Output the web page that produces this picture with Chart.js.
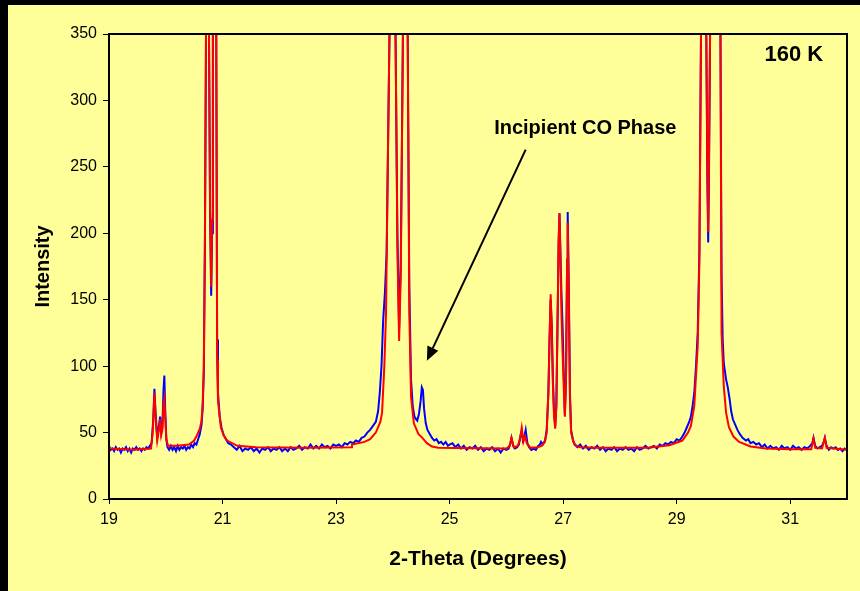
<!DOCTYPE html>
<html lang="en">
<head>
  <meta charset="UTF-8"/>
  <title>160 K XRD Pattern</title>
  <script src="https://cdn.jsdelivr.net/npm/chart.js"></script>
  <style>
    html, body { margin: 0; padding: 0; background: #000; }
    canvas { display: block; }
  </style>
</head>
<body>
  <canvas id="xrd" width="860" height="591"></canvas>

  <script>
    // tick values
    const xTicks = [19, 21, 23, 25, 27, 29, 31]
    const yTicks = [0, 50, 100, 150, 200, 250, 300, 350]

    // measured pattern [2-theta, intensity] (peak tops run off the 350 limit)
    const observed = [
      [19.00,40],[19.03,37],[19.06,38],[19.09,36],[19.12,39],[19.15,37],[19.18,38],[19.21,35],[19.24,38],[19.27,37],
      [19.30,39],[19.33,36],[19.36,38],[19.39,35],[19.42,38],[19.45,37],[19.48,39],[19.51,37],[19.54,38],[19.57,36],
      [19.60,38],[19.63,37],[19.66,39],[19.69,38],[19.72,40],[19.75,42],[19.78,60],[19.80,83],[19.82,65],[19.85,47],
      [19.88,55],[19.90,62],[19.92,50],[19.94,54],[19.96,82],[19.975,93],[19.99,68],[20.01,45],[20.03,39],[20.06,37],
      [20.09,40],[20.12,37],[20.15,39],[20.18,36],[20.21,40],[20.24,37],[20.27,39],[20.30,38],[20.33,40],[20.36,37],
      [20.39,39],[20.42,38],[20.45,41],[20.48,39],[20.51,42],[20.54,41],[20.57,45],[20.60,49],[20.63,56],[20.65,68],
      [20.67,95],[20.69,190],[20.71,360],[20.735,900],[20.76,360],[20.78,215],[20.80,153],[20.815,200],[20.83,360],[20.86,900],
      [20.89,340],[20.905,120],[20.92,80],[20.95,62],[20.98,54],[21.02,48],[21.06,45],[21.10,42],[21.15,41],[21.20,39],
      [21.25,37],[21.30,40],[21.35,36],[21.40,38],[21.45,37],[21.50,39],[21.55,36],[21.60,38],[21.65,35],[21.70,38],
      [21.75,37],[21.80,39],[21.85,36],[21.90,38],[21.95,37],[22.00,39],[22.05,36],[22.10,38],[22.15,36],[22.20,39],
      [22.25,37],[22.30,38],[22.35,40],[22.40,37],[22.45,39],[22.50,38],[22.55,41],[22.60,38],[22.65,40],[22.70,38],
      [22.75,41],[22.80,39],[22.85,40],[22.90,38],[22.95,41],[23.00,40],[23.05,41],[23.10,39],[23.15,42],[23.20,41],
      [23.25,43],[23.30,42],[23.35,44],[23.40,43],[23.45,46],[23.50,47],[23.55,50],[23.60,52],[23.65,55],[23.70,58],
      [23.74,66],[23.77,80],[23.80,100],[23.83,135],[23.86,155],[23.89,185],[23.92,280],[23.95,380],[24.00,900],[24.045,360],
      [24.08,200],[24.11,128],[24.14,180],[24.18,360],[24.22,900],[24.26,360],[24.29,160],[24.32,90],[24.35,70],[24.38,62],
      [24.41,60],[24.43,59],[24.46,64],[24.49,74],[24.51,84],[24.53,82],[24.55,68],[24.58,57],[24.61,52],[24.65,49],
      [24.69,46],[24.73,44],[24.77,45],[24.81,42],[24.85,43],[24.89,41],[24.93,43],[24.97,40],[25.00,41],[25.05,42],
      [25.10,39],[25.15,41],[25.20,38],[25.25,40],[25.30,37],[25.35,39],[25.40,38],[25.45,40],[25.50,37],[25.55,39],
      [25.60,36],[25.65,38],[25.70,37],[25.75,39],[25.80,36],[25.85,38],[25.90,35],[25.95,38],[26.00,37],[26.04,38],
      [26.07,42],[26.09,46],[26.12,40],[26.15,38],[26.19,39],[26.22,41],[26.25,48],[26.27,51],[26.29,44],[26.31,46],
      [26.34,52],[26.37,42],[26.40,39],[26.44,37],[26.48,38],[26.52,37],[26.56,40],[26.59,41],[26.61,43],[26.64,41],
      [26.68,44],[26.71,52],[26.74,80],[26.76,120],[26.78,150],[26.80,130],[26.82,90],[26.84,65],[26.86,55],[26.88,70],
      [26.90,130],[26.92,190],[26.935,215],[26.95,190],[26.97,155],[26.99,130],[27.01,95],[27.03,63],[27.05,90],[27.07,180],
      [27.08,216],[27.10,160],[27.12,80],[27.14,52],[27.17,45],[27.20,41],[27.25,39],[27.30,41],[27.35,38],[27.40,40],
      [27.45,37],[27.50,39],[27.55,38],[27.60,40],[27.65,37],[27.70,39],[27.75,36],[27.80,38],[27.85,37],[27.90,39],
      [27.95,36],[28.00,38],[28.05,37],[28.10,39],[28.15,37],[28.20,38],[28.25,36],[28.30,39],[28.35,37],[28.40,38],
      [28.45,40],[28.50,38],[28.55,39],[28.60,40],[28.65,38],[28.70,41],[28.75,40],[28.80,42],[28.85,41],[28.90,43],
      [28.95,42],[29.00,45],[29.05,44],[29.10,47],[29.14,50],[29.18,54],[29.22,58],[29.25,62],[29.28,70],[29.31,80],
      [29.34,100],[29.37,125],[29.40,187],[29.43,360],[29.48,900],[29.52,360],[29.54,240],[29.555,193],[29.57,250],[29.59,360],
      [29.68,900],[29.77,360],[29.79,170],[29.81,120],[29.83,102],[29.87,90],[29.90,84],[29.93,76],[29.96,66],[29.99,60],
      [30.03,56],[30.07,52],[30.11,49],[30.16,46],[30.22,44],[30.26,45],[30.30,42],[30.35,43],[30.40,41],[30.45,42],
      [30.50,39],[30.55,41],[30.60,38],[30.65,40],[30.70,38],[30.75,39],[30.80,37],[30.85,40],[30.90,38],[30.95,39],
      [31.00,37],[31.05,40],[31.10,38],[31.15,39],[31.20,37],[31.25,39],[31.30,38],[31.35,40],[31.39,42],[31.41,46],
      [31.44,40],[31.48,38],[31.52,39],[31.56,40],[31.59,43],[31.61,46],[31.64,40],[31.68,37],[31.72,39],[31.76,38],
      [31.80,39],[31.84,37],[31.88,38],[31.92,36],[31.96,38],[32.00,37]
    ]

    // calculated (fitted) pattern
    const fitted = [
      [19.00,38],[19.40,37],[19.74,38],[19.77,50],[19.80,80],[19.83,55],[19.85,44],[19.88,52],[19.90,60],[19.92,48],
      [19.94,52],[19.96,72],[19.975,76],[19.99,62],[20.01,45],[20.04,40],[20.20,40],[20.41,41],[20.50,44],[20.55,48],
      [20.60,53],[20.63,59],[20.65,72],[20.67,99],[20.69,200],[20.71,360],[20.735,900],[20.76,360],[20.78,225],[20.80,160],
      [20.815,210],[20.83,360],[20.86,900],[20.89,340],[20.905,105],[20.92,74],[20.97,54],[21.02,48],[21.08,44],[21.26,40],
      [21.60,39],[22.50,38.5],[23.27,39],[23.28,41],[23.50,43],[23.60,45],[23.70,50],[23.78,58],[23.81,65],[23.85,100],
      [23.88,140],[23.91,250],[23.95,380],[24.00,900],[24.045,360],[24.08,190],[24.11,119],[24.14,170],[24.18,360],[24.22,900],
      [24.26,360],[24.29,140],[24.32,77],[24.37,57],[24.45,49],[24.52,46],[24.60,42],[24.69,39.5],[24.80,38.5],[25.10,38.3],
      [26.00,38],[26.06,40],[26.09,46],[26.13,39],[26.20,40],[26.24,45],[26.27,53.5],[26.30,43],[26.33,47],[26.36,42],
      [26.42,38.5],[26.55,39],[26.62,40],[26.68,43],[26.71,50],[26.74,80],[26.76,120],[26.78,154],[26.80,125],[26.82,85],
      [26.84,62],[26.86,53],[26.88,70],[26.90,130],[26.92,195],[26.935,215],[26.95,185],[26.97,140],[26.99,110],[27.01,85],
      [27.03,62],[27.05,90],[27.07,180],[27.08,208],[27.10,150],[27.12,75],[27.14,50],[27.18,43],[27.22,40.5],[27.30,39],
      [27.60,38.5],[28.50,38.5],[28.87,40.5],[29.10,44],[29.20,50],[29.25,55],[29.31,70],[29.37,115],[29.40,180],[29.43,360],
      [29.48,900],[29.52,360],[29.54,250],[29.555,201],[29.57,260],[29.59,360],[29.68,900],[29.77,360],[29.79,125],[29.83,84.5],
      [29.87,65],[29.92,54],[30.00,47],[30.10,43],[30.30,39.5],[30.57,38],[31.00,37.5],[31.37,37.5],[31.41,45.5],[31.44,38.5],
      [31.56,38],[31.61,46],[31.64,38.5],[32.00,37]
    ]

    // annotation anchors in data units
    const phaseLabel = { text: 'Incipient CO Phase', x: 27.39, y: 279 }
    const phaseArrow = { x0: 26.34, y0: 263, x1: 24.60, y1: 104 }
    const tempLabel = { text: '160 K', x: 31.58, y: 334 }

    const FONT = '"Liberation Sans", Arial, sans-serif'

    const panel = {
      id: 'panel',
      beforeDraw(chart) {
        const ctx = chart.ctx
        ctx.save()
        ctx.fillStyle = '#000'
        ctx.fillRect(0, 0, chart.width, chart.height)
        ctx.fillStyle = '#FFFF99'
        ctx.fillRect(8, 5, chart.width - 8, chart.height - 5)
        ctx.restore()
      },
      afterDraw(chart) {
        const { ctx, chartArea: a, scales: { x, y } } = chart
        ctx.save()
        ctx.strokeStyle = '#000'
        ctx.lineWidth = 2
        ctx.strokeRect(a.left, a.top, a.right - a.left, a.bottom - a.top)

        ctx.fillStyle = '#000'
        ctx.textBaseline = 'middle'
        ctx.font = 'bold 22px ' + FONT
        ctx.textAlign = 'right'
        ctx.fillText(tempLabel.text, x.getPixelForValue(tempLabel.x), y.getPixelForValue(tempLabel.y))

        ctx.font = 'bold 20px ' + FONT
        ctx.textAlign = 'center'
        ctx.fillText(phaseLabel.text, x.getPixelForValue(phaseLabel.x), y.getPixelForValue(phaseLabel.y))

        // arrow
        const sx = x.getPixelForValue(phaseArrow.x0), sy = y.getPixelForValue(phaseArrow.y0)
        const tx = x.getPixelForValue(phaseArrow.x1), ty = y.getPixelForValue(phaseArrow.y1)
        const ang = Math.atan2(ty - sy, tx - sx)
        const head = 14, half = 6
        const bx = tx - head * Math.cos(ang), by = ty - head * Math.sin(ang)
        ctx.lineWidth = 2
        ctx.beginPath()
        ctx.moveTo(sx, sy)
        ctx.lineTo(bx, by)
        ctx.stroke()
        ctx.beginPath()
        ctx.moveTo(tx, ty)
        ctx.lineTo(bx + half * Math.sin(ang), by - half * Math.cos(ang))
        ctx.lineTo(bx - half * Math.sin(ang), by + half * Math.cos(ang))
        ctx.closePath()
        ctx.fill()
        ctx.restore()
      }
    }

    const toPoints = arr => arr.map(p => ({ x: p[0], y: p[1] }))

    new Chart(document.getElementById('xrd'), {
      type: 'line',
      data: {
        datasets: [
          {
            label: 'Observed',
            data: toPoints(observed),
            borderColor: '#0000FF',
            borderWidth: 2,
            pointRadius: 0,
            tension: 0,
            order: 1
          },
          {
            label: 'Calculated',
            data: toPoints(fitted),
            borderColor: '#FF0000',
            borderWidth: 2,
            pointRadius: 0,
            tension: 0,
            order: 0
          }
        ]
      },
      options: {
        responsive: false,
        animation: false,
        devicePixelRatio: 1,
        layout: { padding: { left: 0, top: 34, right: 13, bottom: 0 } },
        plugins: { legend: { display: false }, tooltip: { enabled: false } },
        scales: {
          x: {
            type: 'linear',
            min: 19,
            max: 32,
            afterBuildTicks: axis => { axis.ticks = xTicks.map(v => ({ value: v })) },
            afterFit: axis => { axis.height = 92 },
            grid: { drawOnChartArea: false, drawTicks: true, tickLength: 5, color: '#000' },
            border: { display: true, color: '#000', width: 2 },
            ticks: { color: '#000', font: { family: FONT, size: 16 }, padding: 6, maxRotation: 0 },
            title: {
              display: true,
              text: '2-Theta (Degrees)',
              color: '#000',
              font: { family: FONT, size: 21, weight: 'bold' },
              padding: { top: 0, bottom: 19 }
            }
          },
          y: {
            min: 0,
            max: 350,
            afterBuildTicks: axis => { axis.ticks = yTicks.map(v => ({ value: v })) },
            afterFit: axis => { axis.width = 109 },
            grid: { drawOnChartArea: false, drawTicks: true, tickLength: 6, color: '#000' },
            border: { display: true, color: '#000', width: 2 },
            ticks: { color: '#000', font: { family: FONT, size: 16 }, padding: 6 },
            title: {
              display: true,
              text: 'Intensity',
              color: '#000',
              font: { family: FONT, size: 20, weight: 'bold' },
              padding: { top: 31, bottom: 0 }
            }
          }
        }
      },
      plugins: [panel]
    })
  </script>
</body>
</html>
